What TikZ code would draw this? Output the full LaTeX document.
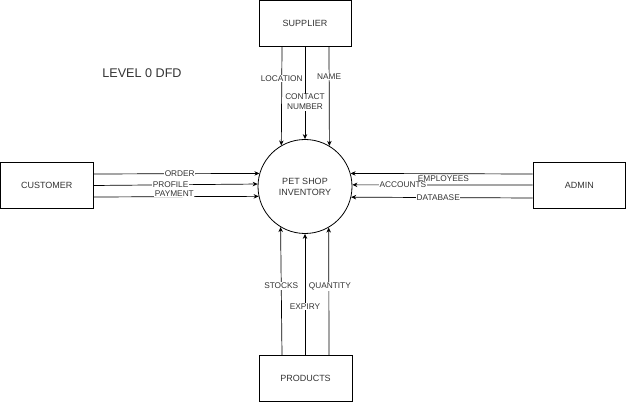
\documentclass[tikz,border=0pt]{standalone}
\usepackage{fontspec}
\setmainfont{Liberation Sans}
\usetikzlibrary{arrows.meta}
\definecolor{txt}{HTML}{333333}
\begin{document}
\begin{tikzpicture}[x=1pt,y=-1pt,
  entity/.style={draw, line width=0.8pt, minimum width=92pt, minimum height=46pt, inner sep=0pt, font=\fontsize{9}{11}\selectfont, text=txt},
  proc/.style={draw, circle, line width=0.8pt, minimum size=94pt, inner sep=0pt, align=center, font=\fontsize{9}{11}\selectfont, text=txt},
  flow/.style={draw, line width=0.7pt, -{Stealth[length=5pt,width=4.5pt]}},
  lbl/.style={fill=white, inner sep=0.6pt, font=\fontsize{8.3}{10}\selectfont, text=txt, align=center}]
\useasboundingbox (0,0) rectangle (626,403);
\node[entity] (sup) at (305,23.3) {SUPPLIER};
\node[entity, minimum width=92.5pt] (cus) at (46.75,185.5) {CUSTOMER};
\node[entity, minimum width=92.5pt] (adm) at (579.25,185.5) {ADMIN};
\node[entity, minimum width=93pt] (prd) at (305.5,378.5) {PRODUCTS};
\node[proc] (c) at (305,186.5) {PET SHOP\\INVENTORY};
\node[font=\fontsize{12.6}{14}\selectfont, text=txt] (title) at (142,73) {LEVEL 0 DFD};
% supplier flows
\draw[flow] ([xshift=-23pt]sup.south) -- (c.120.7) node[lbl, pos=0.32] {LOCATION};
\draw[flow] (sup.south) -- (c.north) node[lbl, pos=0.6] {CONTACT\\NUMBER};
\draw[flow] ([xshift=24pt]sup.south) -- (c.59.3) node[lbl, pos=0.3] {NAME};
% customer flows
\draw[flow] ([yshift=11.5pt]cus.east) -- (c.164) node[lbl, pos=0.52] {ORDER};
\draw[flow] (cus.east) -- (c.177.5) node[lbl, pos=0.47] {PROFILE};
\draw[flow] ([yshift=-11.5pt]cus.east) -- (c.192.3) node[lbl, pos=0.49, yshift=3pt] {PAYMENT};
% admin flows
\draw[flow] ([yshift=11.5pt]adm.west) -- (c.16) node[lbl, pos=0.49, yshift=-4.5pt] {EMPLOYEES};
\draw[flow] ([yshift=0.5pt]adm.west) -- (c.2.4) node[lbl, pos=0.72] {ACCOUNTS};
\draw[flow] ([yshift=-12.5pt]adm.west) -- (c.-13.5) node[lbl, pos=0.52] {DATABASE};
% product flows
\draw[flow] ([xshift=-23.5pt]prd.north) -- (c.239.5) node[lbl, pos=0.54] {STOCKS};
\draw[flow] ([xshift=-0.5pt]prd.north) -- (c.south) node[lbl, pos=0.4] {EXPIRY};
\draw[flow] ([xshift=23.5pt]prd.north) -- (c.300.5) node[lbl, pos=0.54, xshift=1pt] {QUANTITY};
\end{tikzpicture}
\end{document}
